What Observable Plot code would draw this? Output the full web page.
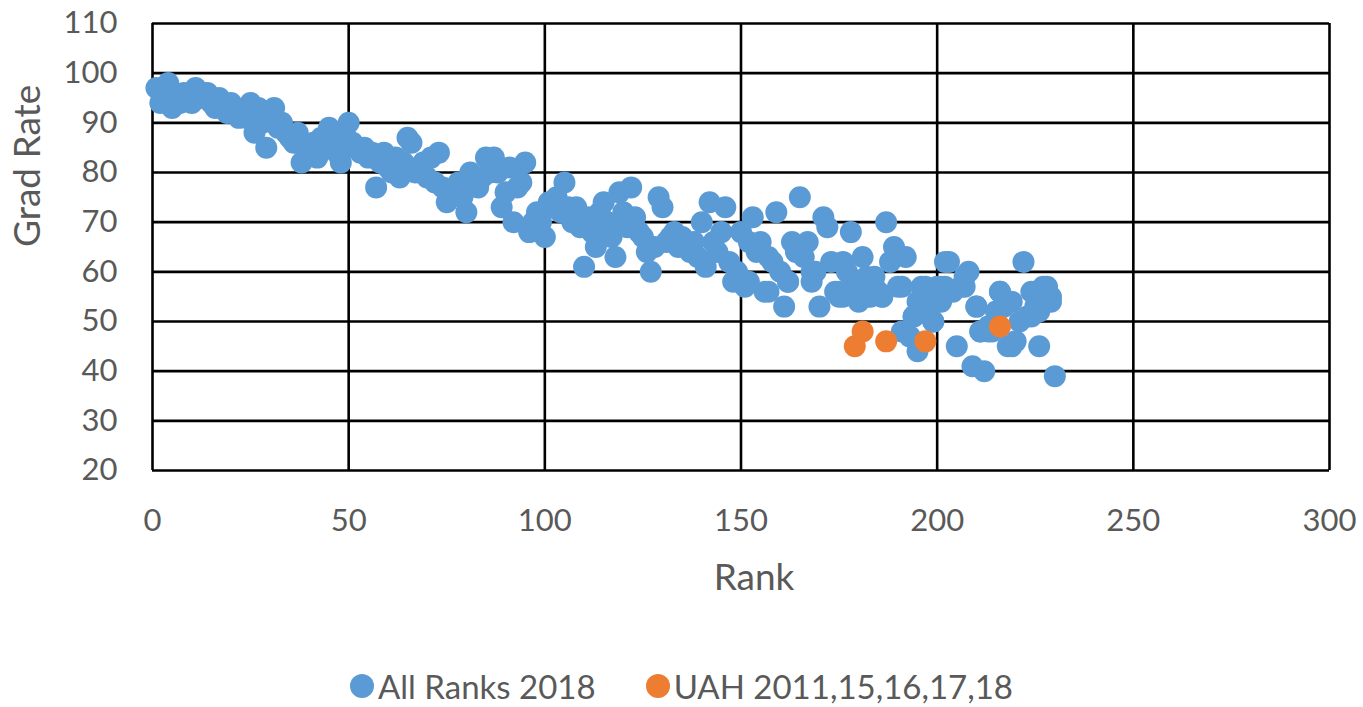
<!DOCTYPE html>
<html>
<head>
<meta charset="utf-8">
<script src="https://cdn.jsdelivr.net/npm/d3@7"></script>
<script src="https://cdn.jsdelivr.net/npm/@observablehq/plot@0.6"></script>
<style>
  html, body { margin: 0; padding: 0; background: #fff; }
  #chart { width: 1363px; height: 610px; }
  .legend { display: flex; justify-content: center; align-items: center; gap: 50px;
            font-family: Lato, "Open Sans", sans-serif; font-size: 33px; color: #595959;
            height: 60px; margin-top: 46px; }
  .legend span.item { display: inline-flex; align-items: center; gap: 4px; }
  .legend span.sw { display: inline-block; width: 24px; height: 24px; border-radius: 50%; }
</style>
</head>
<body>
<div id="chart"></div>
<script>
// ---- data ----
const seriesNames = ["All Ranks 2018", "UAH 2011,15,16,17,18"];
const seriesColors = ["#5b9bd5", "#ed7d31"];

const allRanksRank = [
  1,2,3,4,5,6,7,8,9,10,11,12,13,14,15,16,17,18,19,20,21,22,23,24,25,26,27,28,29,30,
  31,32,33,34,35,36,37,38,39,40,41,42,43,44,45,46,47,48,49,50,51,52,53,54,55,56,57,58,59,60,
  61,62,63,64,65,66,67,68,69,70,71,72,73,74,75,76,77,78,79,80,81,82,83,84,85,86,87,88,89,90,
  91,92,93,94,95,96,97,98,99,100,101,102,103,104,105,106,107,108,109,110,111,112,113,114,115,116,117,118,119,120,
  121,122,123,124,125,126,127,128,129,130,131,132,133,134,135,136,137,138,139,140,141,142,143,144,145,146,147,148,149,150,
  151,152,153,154,155,156,157,158,159,160,161,162,163,164,165,166,167,168,169,170,171,172,173,174,175,176,177,178,179,180,
  181,182,183,184,185,186,187,188,189,190,191,192,193,194,195,196,197,198,199,200,201,202,203,204,205,206,207,208,209,210,
  211,212,213,214,215,216,217,218,219,220,221,222,223,224,225,226,227,228,229,230,
  152,157,162,168,175,176,182,184,186,191,195,197,201,202,207,210,216,218,225,228,229,224,226,194,199,211,213,219
];
const allRanksRate = [
  97,94,96,98,93,95,94,96,95,94,97,95,96,96,94,93,95,94,92,94,93,91,92,91,94,88,93,90,85,92,
  93,89,90,88,87,86,88,82,85,84,86,83,87,85,89,86,84,82,88,90,86,85,84,85,83,84,77,82,84,81,
  80,83,79,82,87,86,80,81,82,79,83,78,84,77,74,76,77,78,75,72,80,78,77,79,83,80,83,80,73,76,
  81,70,77,78,82,68,70,72,70,67,74,73,75,72,78,73,70,73,69,61,71,68,65,72,74,70,67,63,76,72,
  69,77,71,68,67,64,60,65,75,73,66,67,68,65,67,66,64,66,63,70,61,74,66,64,68,73,62,58,60,68,
  57,66,71,64,66,56,63,62,72,60,53,58,66,64,75,63,66,60,60,53,71,69,62,56,55,62,60,68,58,54,
  63,59,55,57,56,55,70,62,65,57,48,63,47,51,44,57,55,53,50,57,54,57,62,56,45,57,59,60,41,53,
  48,40,49,48,52,56,53,45,54,46,50,62,51,56,53,45,57,55,54,39,
  58,56,58,58,56,55,55,59,55,57,54,57,57,62,57,53,56,54,56,57,55,51,52,51,50,48,48,45
];

const uahRank = [179, 181, 187, 197, 216];
const uahRate = [45, 48, 46, 46, 49];

const xTicks = [0, 50, 100, 150, 200, 250, 300];
const yTicks = [20, 30, 40, 50, 60, 70, 80, 90, 100, 110];
const xTitle = "Rank";
const yTitle = "Grad Rate";

// ---- build table ----
const data = [
  ...allRanksRank.map((r, i) => ({rank: r, rate: allRanksRate[i], series: seriesNames[0]})),
  ...uahRank.map((r, i) => ({rank: r, rate: uahRate[i], series: seriesNames[1]}))
];

const font = 'Lato, "Open Sans", sans-serif';

const chart = Plot.plot({
  width: 1363,
  height: 610,
  marginTop: 23,
  marginLeft: 152,
  marginRight: 34,
  marginBottom: 140,
  style: {fontFamily: font, fontSize: "31px", color: "#595959", background: "#fff", overflow: "visible"},
  x: {domain: [0, 300], ticks: xTicks, label: null},
  y: {domain: [20, 110], ticks: yTicks, label: null},
  color: {domain: seriesNames, range: seriesColors},
  marks: [
    Plot.gridX(xTicks, {stroke: "#000", strokeOpacity: 1, strokeWidth: 2.6}),
    Plot.gridY(yTicks, {stroke: "#000", strokeOpacity: 1, strokeWidth: 2.6}),
    Plot.axisX({ticks: xTicks, tickSize: 0, tickPadding: 38, fontSize: 31, fill: "#595959", label: null}),
    Plot.axisY({ticks: yTicks, tickSize: 0, tickPadding: 35, fontSize: 31, fill: "#595959", label: null}),
    Plot.text([xTitle], {text: d => d, frameAnchor: "bottom", dx: 13, dy: 108, lineAnchor: "middle",
      fontSize: 37, fill: "#595959"}),
    Plot.text([yTitle], {text: d => d, frameAnchor: "left", dx: -124, rotate: -90, lineAnchor: "middle",
      fontSize: 37, fill: "#595959"}),
    Plot.dot(data, {x: "rank", y: "rate", fill: "series", r: 11, stroke: "none"})
  ]
});
document.getElementById("chart").appendChild(chart);

// legend
const lg = document.createElement("div");
lg.className = "legend";
seriesNames.forEach((n, i) => {
  const it = document.createElement("span");
  it.className = "item";
  const sw = document.createElement("span");
  sw.className = "sw";
  sw.style.background = seriesColors[i];
  it.appendChild(sw);
  it.appendChild(document.createTextNode(n));
  lg.appendChild(it);
});
document.body.appendChild(lg);
</script>
</body>
</html>
